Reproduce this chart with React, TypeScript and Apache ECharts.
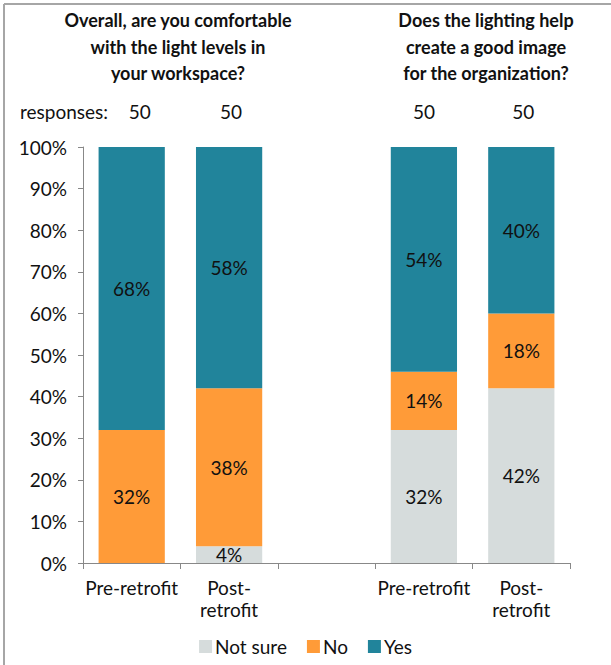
import React, { useEffect, useRef } from "react";
import * as echarts from "echarts";

const categories = ["Pre-retrofit", "Post-\nretrofit", "", "Pre-retrofit", "Post-\nretrofit"];
const notSure = [0, 4, null, 32, 42];
const no = [32, 38, null, 14, 18];
const yes = [68, 58, null, 54, 40];
const responses = ["50", "50", "", "50", "50"];
const titles = [
  "Overall, are you comfortable\nwith the light levels in\nyour workspace?",
  "Does the lighting help\ncreate a good image\nfor the organization?",
];

const FONT = "Lato, 'Open Sans', sans-serif";
const FS = 19;

export default function App() {
  const ref = useRef<HTMLDivElement>(null);
  useEffect(() => {
    if (!ref.current) return;
    const chart = echarts.init(ref.current, undefined, { renderer: "svg" });
    const label = {
      show: true,
      position: "inside",
      color: "#111",
      fontSize: FS,
      fontFamily: FONT,
      formatter: (p: any) => (p.value ? p.value + "%" : ""),
    };
    const gridLeft = 83;
    const gridRight = 570;
    const catW = (gridRight - gridLeft) / categories.length;
    const respOffsets = [8, 2, 0, 0, 2];
    chart.setOption({
      animation: false,
      textStyle: { fontFamily: FONT },
      grid: { left: gridLeft, right: 611 - gridRight, top: 147, bottom: 102, containLabel: false },
      legend: {
        bottom: 4,
        left: "center",
        itemWidth: 13,
        itemHeight: 13,
        itemGap: 20,
        icon: "rect",
        textStyle: { fontSize: FS, color: "#111", fontFamily: FONT, padding: [0, 0, 0, -2] },
        data: ["Not sure", "No", "Yes"],
      },
      xAxis: {
        type: "category",
        data: categories,
        axisLine: { lineStyle: { color: "#888" } },
        axisTick: { show: true, length: 6, alignWithLabel: false, lineStyle: { color: "#888" } },
        axisLabel: { fontSize: FS, color: "#111", fontFamily: FONT, margin: 13, lineHeight: 22, interval: 0 },
      },
      yAxis: {
        type: "value",
        min: 0,
        max: 100,
        interval: 10,
        splitLine: { show: false },
        axisLine: { show: true, lineStyle: { color: "#888" } },
        axisTick: { show: true, length: 5, lineStyle: { color: "#888" } },
        axisLabel: { fontSize: FS, color: "#111", fontFamily: FONT, margin: 16, formatter: "{value}%" },
      },
      series: [
        { name: "Not sure", type: "bar", stack: "s", data: notSure, barWidth: "68%", itemStyle: { color: "#D6DCDC" }, label },
        { name: "No", type: "bar", stack: "s", data: no, itemStyle: { color: "#FF9B38" }, label },
        { name: "Yes", type: "bar", stack: "s", data: yes, itemStyle: { color: "#21849B" }, label },
      ],
      graphic: [
        { type: "line", shape: { x1: 4, y1: 4, x2: 611, y2: 4 }, style: { stroke: "#A6A6A6", lineWidth: 2 } },
        { type: "line", shape: { x1: 4, y1: 4, x2: 4, y2: 665 }, style: { stroke: "#A6A6A6", lineWidth: 2 } },
        {
          type: "text",
          x: 178,
          y: 7,
          style: { text: titles[0], align: "center", fill: "#111", font: `bold 18px ${FONT}`, lineHeight: 26.5 },
        },
        {
          type: "text",
          x: 486,
          y: 7,
          style: { text: titles[1], align: "center", fill: "#111", font: `bold 18px ${FONT}`, lineHeight: 26.5 },
        },
        {
          type: "text",
          x: 20,
          y: 111,
          style: { text: "responses:", align: "left", verticalAlign: "middle", fill: "#111", font: `${FS}px ${FONT}` },
        },
        ...responses.map((r, i) => ({
          type: "text",
          x: gridLeft + catW * (i + 0.5) + respOffsets[i],
          y: 111,
          style: { text: r, align: "center", verticalAlign: "middle", fill: "#111", font: `${FS}px ${FONT}` },
        })),
      ],
    });
    return () => chart.dispose();
  }, []);
  return <div ref={ref} style={{ width: 611, height: 665, position: "absolute", left: 0, top: 0, background: "#fff" }} />;
}
